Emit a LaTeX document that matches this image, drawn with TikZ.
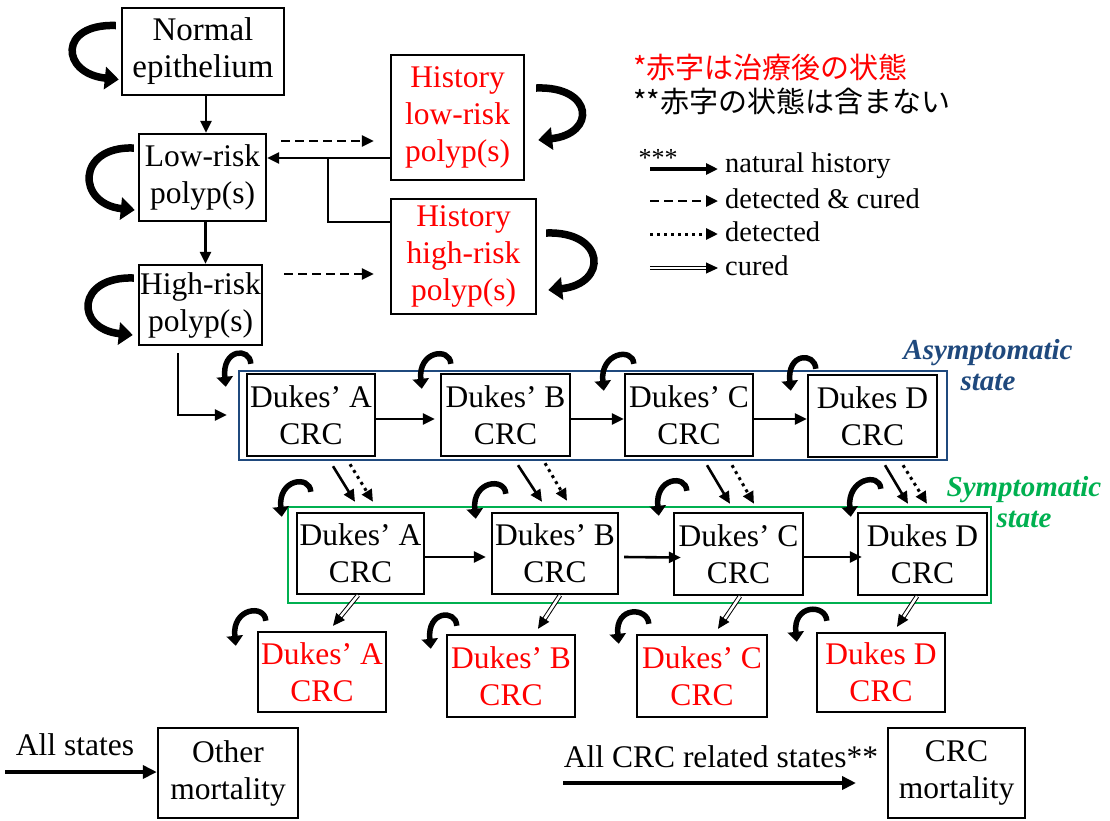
\documentclass[tikz,border=0pt]{standalone}
\usepackage{fontspec}
\setmainfont{Liberation Serif}
\newfontfamily\jpfont{Noto Sans CJK JP}
\usetikzlibrary{arrows.meta,calc}
\definecolor{asyblue}{HTML}{1F497D}
\definecolor{symgreen}{HTML}{00B050}
\definecolor{txtred}{HTML}{FF0000}
\newcommand\sloop[3]{\draw[loopsm, shift={(#1)}] (#2) .. controls +(-1,-17) and +(-4,-38) .. (#3);}
\begin{document}
\begin{tikzpicture}[x=1pt,y=-1pt,
 box/.style={draw,line width=2.4pt,inner sep=0pt,align=center,font=\fontsize{31.5}{37}\selectfont},
 rbox/.style={box,text=txtred},
 nat/.style={line width=2.6pt,-{Triangle[length=12pt,width=11pt]}},
 plain/.style={line width=2.6pt},
 dsh/.style={line width=2.8pt,dash pattern=on 9pt off 5pt,-{Triangle[length=12pt,width=11pt]}},
 dtt/.style={line width=3pt,dash pattern=on 3pt off 4pt,-{Triangle[length=12pt,width=11pt]}},
 cur/.style={double,line width=1pt,double distance=2.6pt,-{Triangle[length=12pt,width=11pt]}},
 bignat/.style={line width=4.5pt,-{Triangle[length=14pt,width=13pt]}},
 loopbig/.style={line width=7.5pt,-{Triangle[length=14pt,width=22pt]}},
 loopsm/.style={line width=5.5pt,-{Triangle[length=10pt,width=16pt]}},
 frame/.style={draw,line width=2pt,inner sep=0pt},
 lbl/.style={font=\fontsize{31.5}{37}\selectfont,inner sep=0pt},
 leg/.style={font=\fontsize{28.5}{30}\selectfont,inner sep=0pt,anchor=west},
 state/.style={font=\fontsize{29}{31}\selectfont\bfseries\itshape,align=center,inner sep=0pt}]
\useasboundingbox (0,0) rectangle (1110,820);

% frames
\node[frame,draw=asyblue,minimum width=708pt,minimum height=89pt] (asy) at (593,415.5) {};
\node[frame,draw=symgreen,minimum width=703pt,minimum height=96pt] (sym) at (639.5,555) {};
\node[state,text=asyblue] (asyl) at (988,365) {Asymptomatic\\state};
\node[state,text=symgreen] (syml) at (1024,502) {Symptomatic\\state};

% polyp boxes
\node[box,minimum width=162pt,minimum height=87pt,font=\fontsize{33}{37}\selectfont] (normal) at (203,51.5) {Normal\\epithelium};
\node[box,minimum width=127pt,minimum height=87pt] (low) at (202.5,177.5) {Low-risk\\polyp(s)};
\node[box,minimum width=123pt,minimum height=80pt] (high) at (200.5,305) {High-risk\\polyp(s)};
\node[rbox,minimum width=133pt,minimum height=125pt] (hlow) at (457.5,117.5) {History\\low-risk\\polyp(s)};
\node[rbox,minimum width=145pt,minimum height=115pt] (hhigh) at (463.5,256.5) {History\\high-risk\\polyp(s)};

% asymptomatic row
\node[box,minimum width=128pt,minimum height=82pt] (aA) at (311,415) {Dukes’ A\\CRC};
\node[box,minimum width=129pt,minimum height=82pt] (aB) at (505.5,415) {Dukes’ B\\CRC};
\node[box,minimum width=128pt,minimum height=82pt] (aC) at (689,415) {Dukes’ C\\CRC};
\node[box,minimum width=129pt,minimum height=82pt] (aD) at (872.5,416) {Dukes D\\CRC};

% symptomatic row
\node[box,minimum width=127pt,minimum height=81pt] (sA) at (360.5,553.5) {Dukes’ A\\CRC};
\node[box,minimum width=126pt,minimum height=81pt] (sB) at (555,553.5) {Dukes’ B\\CRC};
\node[box,minimum width=129pt,minimum height=82pt] (sC) at (738.5,554) {Dukes’ C\\CRC};
\node[box,minimum width=129pt,minimum height=82pt] (sD) at (922.5,554) {Dukes D\\CRC};

% cured row
\node[rbox,minimum width=128pt,minimum height=80pt] (cA) at (322,672) {Dukes’ A\\CRC};
\node[rbox,minimum width=128pt,minimum height=82pt] (cB) at (511,676) {Dukes’ B\\CRC};
\node[rbox,minimum width=130pt,minimum height=82pt] (cC) at (702,676) {Dukes’ C\\CRC};
\node[rbox,minimum width=128pt,minimum height=79pt] (cD) at (881,672.5) {Dukes D\\CRC};

% mortality
\node[box,minimum width=140pt,minimum height=90pt] (other) at (228,773) {Other\\mortality};
\node[box,minimum width=137pt,minimum height=90pt] (crcm) at (956.5,773) {CRC\\mortality};
\node[lbl] (allst) at (75,745) {All states};
\node[lbl] (allcrc) at (721,757) {All CRC related states**};
\coordinate (allS) at (5,772);
\coordinate (crcS) at (563,783);
\coordinate (crcE) at (856,783);
\draw[bignat] (allS) -- (other.west |- allS);
\draw[bignat] (crcS) -- (crcE);

% legend
\node[font=\jpfont\fontsize{29}{30}\selectfont,text=txtred,anchor=west,inner sep=0pt] (j1) at (633,67) {*赤字は治療後の状態};
\node[font=\jpfont\fontsize{29}{30}\selectfont,anchor=west,inner sep=0pt] (j2) at (633,101) {**赤字の状態は含まない};
\node[font=\fontsize{26}{28}\selectfont,inner sep=0pt] (stars) at (658,158) {***};
\coordinate (l1a) at (650,169); \coordinate (l1b) at (718,169);
\coordinate (l2a) at (650,201); \coordinate (l2b) at (718,201);
\coordinate (l3a) at (650,234); \coordinate (l3b) at (718,234);
\coordinate (l4a) at (650,268); \coordinate (l4b) at (718,268);
\draw[nat,line width=3.5pt] (l1a) -- (l1b);
\draw[dsh] (l2a) -- (l2b);
\draw[dtt] (l3a) -- (l3b);
\draw[cur] (l4a) -- (l4b);
\node[leg] (t1) at (725,166) {natural history};
\node[leg] (t2) at (725,199) {detected \& cured};
\node[leg] (t3) at (725,232) {detected};
\node[leg] (t4) at (725,266) {cured};

% polyp connectors
\coordinate (nl) at ($(normal.south)+(3,0)$);
\draw[nat] (nl) -- (nl |- low.north);
\coordinate (lh) at ($(low.south)+(3,0)$);
\draw[nat] (lh) -- (lh |- high.north);
\draw[dsh] ($(low.east)+(14,-36.5)$) -- ($(hlow.west)+(-16,23.5)$);
\draw[dsh] ($(high.east)+(21,-31)$) -- ($(hhigh.west)+(-16,17.5)$);
\draw[nat] ($(hlow.west)+(0,40.5)$) -- ($(low.east)+(0,-19.5)$);
\coordinate (br) at (328,158);
\draw[plain] (br) |- ($(hhigh.west)+(0,-34.5)$);
\draw[nat,shorten >=19pt] ($(high.south)+(-22.5,7)$) |- (aA.west);

% self loops polyp
\draw[loopbig, shift={(normal.west)}] (-5,-26) .. controls +(-58,-2) and +(-58,-6) .. (-2,28);
\draw[loopbig, shift={(low.west)}] (-4,-29.5) .. controls +(-58,-2) and +(-58,-6) .. (-3,32.5);
\draw[loopbig, shift={(high.west)}] (-4,-27) .. controls +(-58,-2) and +(-58,-6) .. (-5,30);
\draw[loopbig, shift={(hlow.east)}] (11,-29.5) .. controls +(58,-2) and +(58,-6) .. (13,22.5);
\draw[loopbig, shift={(hhigh.east)}] (9,-23.5) .. controls +(60,-2) and +(60,-6) .. (11,33.5);

% row arrows
\draw[nat] ($(aA.east)+(0,4)$) -- ($(aB.west)+(-5,4)$);
\draw[nat] ($(aB.east)+(0,4)$) -- ($(aC.west)+(0,4)$);
\draw[nat] ($(aC.east)+(0,4)$) -- ($(aD.west)+(0,3)$);
\draw[nat] ($(sA.east)+(0,3.5)$) -- ($(sB.west)+(-5,3.5)$);
\draw[nat] ($(sB.east)+(5,3.5)$) -- ($(sC.west)+(8,3.5)$);
\draw[nat] ($(sC.east)+(0,3)$) -- ($(sD.west)+(5,3)$);

% asym -> sym
\draw[nat] ($(aA.south)+(22,9)$) -- ($(sA.north)+(-5.5,-10)$);
\draw[dtt] ($(aA.south)+(39,7)$) -- ($(sA.north)+(12.5,-10)$);
\draw[nat] ($(aB.south)+(12.5,8)$) -- ($(sB.north)+(-13,-10)$);
\draw[dtt] ($(aB.south)+(39.5,6)$) -- ($(sB.north)+(12,-11)$);
\draw[nat] ($(aC.south)+(18,8)$) -- ($(sC.north)+(-8.5,-8)$);
\draw[dtt] ($(aC.south)+(43,8)$) -- ($(sC.north)+(15.5,-8)$);
\draw[nat] ($(aD.south)+(12.5,7)$) -- ($(sD.north)+(-14.5,-8)$);
\draw[dtt] ($(aD.south)+(30.5,7)$) -- ($(sD.north)+(4.5,-8)$);

% sym -> cured
\draw[cur] ($(sA.south)+(-2.5,0)$) -- ($(cA.north)+(11,-5)$);
\draw[cur] ($(sB.south)+(5,0)$) -- ($(cB.north)+(27,-5)$);
\draw[cur] ($(sC.south)+(1.5,0)$) -- ($(cC.north)+(16,-5)$);
\draw[cur] ($(sD.south)+(-5.5,0)$) -- ($(cD.north)+(16,-5)$);

% small self loops
\sloop{aA.north west}{5,-9}{-20,14}
\sloop{aB.north west}{11,-9}{-18,16}
\sloop{aC.north west}{10,-9}{-20,18}
\sloop{aD.north west}{9,-5}{-16,17}
\sloop{sA.north west}{15,-20}{-14,5}
\sloop{sB.north west}{15,-18}{-15,7}
\sloop{sC.north west}{14,-21}{-14,4}
\sloop{sD.north west}{24,-23}{-6,5}
\sloop{cA.north west}{9,-10}{-21,15}
\sloop{cB.north west}{11,-8}{-15,15}
\sloop{cC.north west}{13,-10}{-17,10}
\sloop{cD.north west}{11,-11}{-19,10}
\end{tikzpicture}
\end{document}
